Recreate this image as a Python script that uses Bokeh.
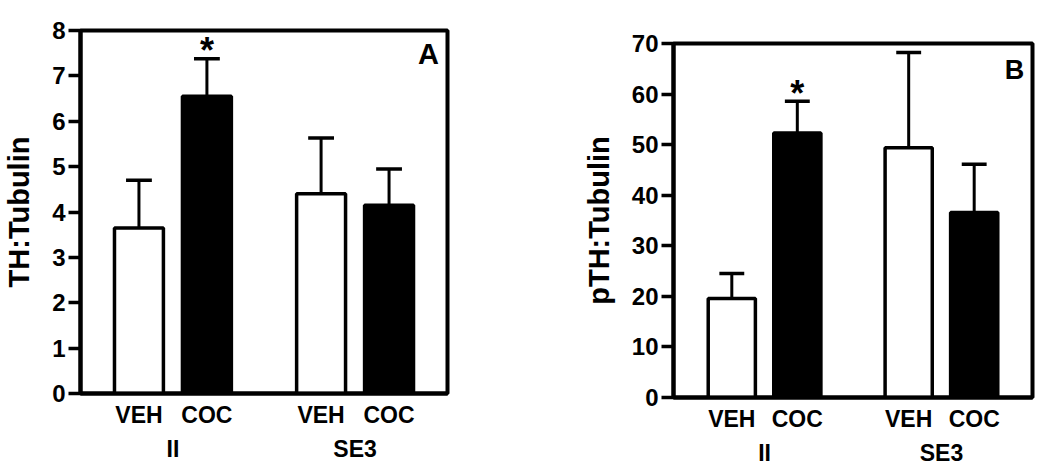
from bokeh.plotting import figure
from bokeh.models import FactorRange, Range1d, FixedTicker, ColumnDataSource, Spacer
from bokeh.layouts import row, column
from bokeh.core.properties import value
from bokeh.embed import file_html
from bokeh.resources import INLINE

# ---- data ----
groups = ["II", "SE3"]
treatments = ["VEH", "COC"]
factors = [(g, t) for g in groups for t in treatments]
bar_colors = ["white", "black", "white", "black"]

th_mean = [3.65, 6.55, 4.40, 4.15]
th_err = [1.05, 0.83, 1.23, 0.80]
th_ticks = [0, 1, 2, 3, 4, 5, 6, 7, 8]

pth_mean = [19.6, 52.3, 49.4, 36.6]
pth_err = [4.9, 6.3, 18.8, 9.5]
pth_ticks = [0, 10, 20, 30, 40, 50, 60, 70]

star = ["", "*", "", ""]  # significance marker above COC II

FONT = "Liberation Sans"


def make_panel(mean, err, ticks, ylabel, panel_letter, width, height,
               bl, br, bt, bb, gpad, rpad, letter_size, letter_dy):
    p = figure(x_range=FactorRange(*factors, factor_padding=0.0,
                                   group_padding=gpad, range_padding=rpad,
                                   range_padding_units="absolute"),
               y_range=Range1d(ticks[0], ticks[-1]),
               width=width, height=height, output_backend="svg",
               toolbar_location=None, min_border_left=bl,
               min_border_right=br, min_border_top=bt, min_border_bottom=bb)
    upper = [m + e for m, e in zip(mean, err)]
    src = ColumnDataSource(dict(x=factors, top=mean, upper=upper,
                                color=bar_colors, star=star))
    p.vbar(x="x", top="top", width=0.72, bottom=0, source=src,
           fill_color="color", line_color="black", line_width=3.5)
    p.segment(x0="x", y0="top", x1="x", y1="upper", source=src,
              line_color="black", line_width=3)
    # error caps
    p.rect(x="x", y="upper", width=0.38, height=3.5, height_units="screen",
           source=src, fill_color="black", line_color=None)
    p.text(x="x", y="upper", text="star", source=src, text_align="center",
           text_baseline="alphabetic", text_font=value(FONT),
           text_font_style="bold", text_font_size="36px", y_offset=-8,
           text_color="black")
    p.text(x=[factors[-1]], y=[ticks[-1]], text=[panel_letter],
           text_align="right", text_baseline="top", x_offset=50,
           y_offset=letter_dy, text_font=value(FONT), text_font_style="bold",
           text_font_size=letter_size, text_color="black")

    p.xgrid.visible = False
    p.ygrid.visible = False
    p.outline_line_color = "black"
    p.outline_line_width = 4
    p.outline_line_alpha = 1.0

    ya = p.yaxis[0]
    ya.ticker = FixedTicker(ticks=ticks)
    ya.axis_label = ylabel
    ya.axis_label_text_font = FONT
    ya.axis_label_text_font_style = "bold"
    ya.axis_label_text_font_size = "29px"
    ya.axis_label_text_color = "black"
    ya.axis_label_standoff = 14
    ya.major_label_text_font = FONT
    ya.major_label_text_font_style = "bold"
    ya.major_label_text_font_size = "24px"
    ya.major_label_text_color = "black"
    ya.major_label_standoff = 3
    ya.major_tick_out = 12
    ya.major_tick_in = 0
    ya.major_tick_line_width = 3.5
    ya.major_tick_line_color = "black"
    ya.minor_tick_line_color = None
    ya.axis_line_width = 4
    ya.axis_line_color = "black"

    xa = p.xaxis[0]
    xa.axis_line_width = 4
    xa.axis_line_color = "black"
    xa.major_tick_line_color = None
    xa.minor_tick_line_color = None
    xa.major_tick_out = 3
    xa.major_tick_in = 0
    xa.minor_tick_out = 0
    xa.major_label_text_font = FONT
    xa.major_label_text_font_style = "bold"
    xa.major_label_text_font_size = "23px"
    xa.major_label_text_color = "black"
    xa.major_label_standoff = 5
    xa.group_text_font = FONT
    xa.group_text_font_style = "bold"
    xa.group_text_font_size = "23px"
    xa.group_text_color = "black"
    xa.separator_line_color = None
    return p


pA = make_panel(th_mean, th_err, th_ticks, "TH:Tubulin", "A",
                505, 464, 80, 58, 30, 71, 0.68, 0.36, "29px", 7)
pB = make_panel(pth_mean, pth_err, pth_ticks, "pTH:Tubulin", "B",
                535, 455, 168, 8, 30, 71, 0.70, 0.39, "27px", 11)

layout = row(pA, column(Spacer(width=535, height=13), pB))
open("out.html", "w").write(file_html(layout, INLINE))
